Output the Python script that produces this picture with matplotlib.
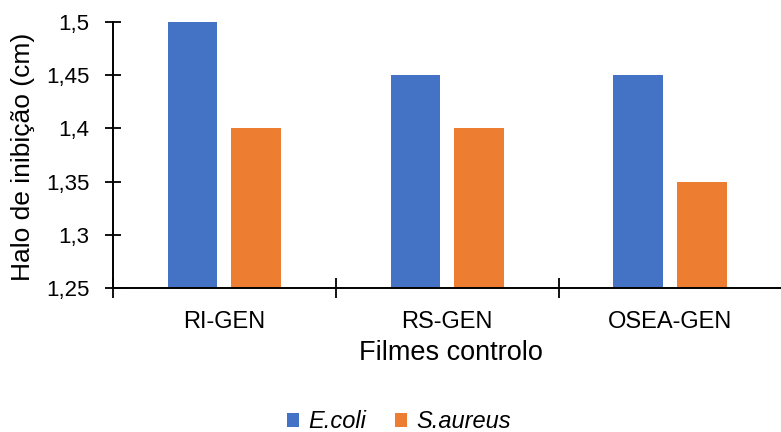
import numpy as np
import matplotlib.pyplot as plt
from matplotlib.ticker import FuncFormatter, FixedLocator

plt.rcParams['font.family'] = ['Liberation Sans', 'DejaVu Sans']

# halo de inibição (cm) por filme controlo
filmes = ["RI-GEN", "RS-GEN", "OSEA-GEN"]
ecoli = [1.50, 1.45, 1.45]
saureus = [1.40, 1.40, 1.35]
series = ["E.coli", "S.aureus"]
cores = ["#4472C4", "#ED7D31"]

fig = plt.figure(figsize=(7.81, 4.32), dpi=100)
ax = fig.add_axes([0.1447, 0.333, 0.856, 0.616])

x = np.arange(len(filmes))
w = 0.223
off = 0.143
ax.bar(x - off, ecoli, w, color=cores[0], label=series[0], zorder=2)
ax.bar(x + off, saureus, w, color=cores[1], label=series[1], zorder=2)

ax.set_ylim(1.25, 1.5)
ax.set_xlim(-0.5, len(filmes) - 0.5)
ax.set_yticks(np.arange(1.25, 1.501, 0.05))
ax.yaxis.set_major_formatter(FuncFormatter(
    lambda v, p: ("%.2f" % v).rstrip("0").rstrip(".").replace(".", ",")))

# categorias com marcas entre os grupos
ax.set_xticks(x)
ax.set_xticklabels(filmes)
ax.xaxis.set_minor_locator(FixedLocator(np.arange(-0.5, len(filmes) - 1, 1.0)))
ax.tick_params(axis="x", which="major", length=0, pad=16.5, labelsize=17)
ax.tick_params(axis="x", which="minor", length=14, width=1.3, direction="inout")
ax.tick_params(axis="y", length=12, width=1.3, direction="inout", labelsize=16, pad=11)

for s in ["top", "right"]:
    ax.spines[s].set_visible(False)
ax.spines["left"].set_linewidth(1.4)
ax.spines["bottom"].set_linewidth(1.4)

ax.set_ylabel("Halo de inibição (cm)", fontsize=19)
ax.yaxis.set_label_coords(23 / 781, (432 - 157) / 432, transform=fig.transFigure)
ax.set_xlabel("Filmes controlo", fontsize=19.5)
ax.xaxis.set_label_coords(451 / 781, 1 - 353 / 432, transform=fig.transFigure)
ax.xaxis.label.set_va("center")
ax.yaxis.label.set_va("center")

leg = fig.legend(loc="center", ncol=2, frameon=False, fontsize=17,
                 handlelength=0.5, handleheight=0.5, handletextpad=0.4,
                 columnspacing=1.2,
                 bbox_to_anchor=(399 / 781, 1 - 422 / 432),
                 bbox_transform=fig.transFigure)
for t in leg.get_texts():
    t.set_fontstyle("italic")

fig.savefig("out.png", dpi=100)
